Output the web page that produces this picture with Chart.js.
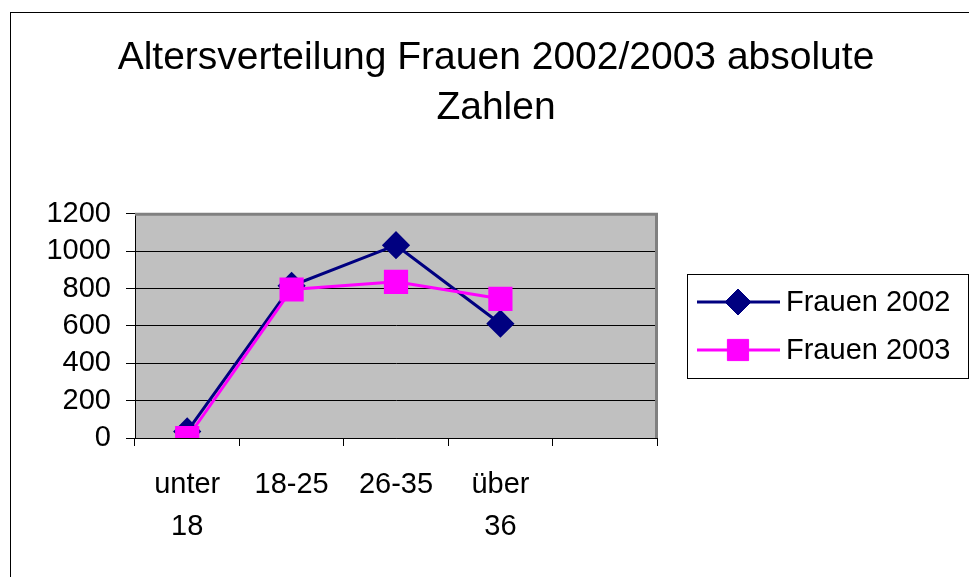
<!DOCTYPE html>
<html>
<head>
<meta charset="utf-8">
<script src="https://cdn.jsdelivr.net/npm/chart.js"></script>
<style>
  html, body { margin: 0; padding: 0; background: #fff; }
  #wrap { width: 969px; height: 577px; }
</style>
</head>
<body>
<div id="wrap"><canvas id="c" width="969" height="577"></canvas></div>
<script>
const categories = [["unter", "18"], "18-25", "26-35", ["über", "36"], ""];
const frauen2002 = [35, 815, 1032, 612];
const frauen2003 = [0, 795, 836, 745];
const yMax = 1200;
const yStep = 200;

const FONT = "'Liberation Sans', Arial, Helvetica, sans-serif";

// gray plot background + frame + outer chart border
const plotBackground = {
  id: "plotBackground",
  beforeDraw(chart) {
    const { ctx, chartArea: a } = chart;
    ctx.save();
    ctx.fillStyle = "#fff";
    ctx.fillRect(0, 0, chart.width, chart.height);
    ctx.strokeStyle = "#000";
    ctx.lineWidth = 1;
    ctx.strokeRect(10.5, 12.5, chart.width + 20, chart.height + 20);
    ctx.fillStyle = "#C0C0C0";
    ctx.fillRect(a.left, a.top, a.right - a.left, a.bottom - a.top);
    ctx.restore();
  },
  beforeDatasetsDraw(chart) {
    const { ctx, chartArea: a } = chart;
    ctx.save();
    ctx.strokeStyle = "#808080";
    ctx.lineWidth = 3;
    ctx.beginPath();
    ctx.moveTo(a.left, a.top + 0.5);
    ctx.lineTo(a.right - 0.5, a.top + 0.5);
    ctx.lineTo(a.right - 0.5, a.bottom);
    ctx.stroke();
    ctx.restore();
  }
};

// Excel-like boxed legend on the right
const boxLegend = {
  id: "boxLegend",
  afterDraw(chart) {
    const { ctx } = chart;
    const x0 = 687, y0 = 274, w = 281, h = 104;
    ctx.save();
    ctx.strokeStyle = "#000";
    ctx.lineWidth = 1;
    ctx.strokeRect(x0 + 0.5, y0 + 0.5, w, h);
    chart.data.datasets.forEach((ds, i) => {
      const cy = 302 + i * 48;
      ctx.strokeStyle = ds.borderColor;
      ctx.lineWidth = 3;
      ctx.beginPath();
      ctx.moveTo(697, cy);
      ctx.lineTo(780, cy);
      ctx.stroke();
      ctx.fillStyle = ds.pointBackgroundColor;
      ctx.strokeStyle = ds.pointBorderColor;
      ctx.lineWidth = 1;
      Chart.helpers.drawPoint(ctx, {
        pointStyle: ds.pointStyle,
        rotation: 0,
        borderWidth: 1,
        radius: ds.legendRadius
      }, 738, cy);
      ctx.fillStyle = "#000";
      ctx.font = "29px " + FONT;
      ctx.textBaseline = "middle";
      ctx.textAlign = "left";
      ctx.fillText(ds.label, 786, cy + 1);
    });
    ctx.restore();
  }
};

new Chart(document.getElementById("c"), {
  type: "line",
  data: {
    labels: categories,
    datasets: [
      {
        label: "Frauen 2002",
        data: frauen2002,
        order: 2,
        borderColor: "#000080",
        backgroundColor: "#000080",
        pointBackgroundColor: "#000080",
        pointBorderColor: "#000080",
        pointStyle: "rectRot",
        pointRadius: 12,
        legendRadius: 13,
        borderWidth: 3,
        tension: 0
      },
      {
        label: "Frauen 2003",
        data: frauen2003,
        order: 1,
        borderColor: "#FF00FF",
        backgroundColor: "#FF00FF",
        pointBackgroundColor: "#FF00FF",
        pointBorderColor: "#FF00FF",
        pointStyle: "rect",
        pointRadius: 15,
        legendRadius: 15,
        borderWidth: 3,
        tension: 0
      }
    ]
  },
  options: {
    responsive: false,
    animation: false,
    events: [],
    layout: { padding: { left: 23, right: 0, top: 0, bottom: 0 } },
    plugins: {
      legend: { display: false },
      tooltip: { enabled: false },
      title: {
        display: true,
        text: ["Altersverteilung Frauen 2002/2003 absolute", "Zahlen"],
        color: "#000",
        font: { family: FONT, size: 39, weight: "normal", lineHeight: 1.28 },
        padding: { top: 33, bottom: 81 }
      }
    },
    scales: {
      x: {
        type: "category",
        offset: true,
        border: { display: true, color: "#000", width: 1 },
        grid: {
          offset: true,
          drawOnChartArea: false,
          drawTicks: true,
          tickLength: 8,
          color: "#000"
        },
        ticks: {
          color: "#000",
          padding: 18,
          maxRotation: 0,
          autoSkip: false,
          font: { family: FONT, size: 29, lineHeight: 1.45 }
        },
        afterFit(s) { s.height = 139; }
      },
      y: {
        min: 0,
        max: yMax,
        border: { display: true, color: "#000", width: 1 },
        grid: { color: "#000", tickLength: 9, drawTicks: true },
        ticks: {
          stepSize: yStep,
          autoSkip: false,
          color: "#000",
          padding: 15,
          font: { family: FONT, size: 29 },
          callback: v => String(v)
        },
        afterFit(s) { s.width = 112; }
      },
      yRight: {
        position: "right",
        display: true,
        grid: { display: false },
        border: { display: false },
        ticks: { display: false },
        afterFit(s) { s.width = 312; }
      }
    }
  },
  plugins: [plotBackground, boxLegend]
});
</script>
</body>
</html>
